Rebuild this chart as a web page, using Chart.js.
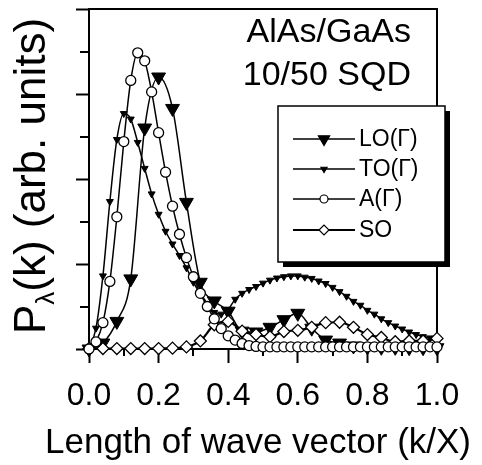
<!DOCTYPE html>
<html><head><meta charset="utf-8">
<script src="https://cdn.jsdelivr.net/npm/chart.js@4.4.1/dist/chart.umd.min.js"></script>
<style>html,body{margin:0;padding:0;background:#fff;}#wrap{width:482px;height:465px;}</style>
</head><body><div id="wrap"><canvas id="c" width="482" height="465"></canvas></div>
<script>
// ---- data ----
const kCoarse = [0,0.04,0.08,0.12,0.16,0.20,0.24,0.28,0.32,0.36,0.40,0.44,0.48,0.52,0.56,0.60,0.64,0.68,0.72,0.76,0.80,0.84,0.88,0.92,0.96,1.00];
const kFine = [0,0.02,0.04,0.06,0.08,0.10,0.12,0.14,0.16,0.18,0.20,0.22,0.24,0.26,0.28,0.30,0.32,0.34,0.36,0.38,0.40,0.42,0.44,0.46,0.48,0.50,0.52,0.54,0.56,0.58,0.60,0.62,0.64,0.66,0.68,0.70,0.72,0.74,0.76,0.78,0.80,0.82,0.84,0.86,0.88,0.90,0.92,0.94,0.96,0.98,1.00];
const LO = [0,0.14,0.65,1.65,5.2,6.4,5.66,3.45,1.57,1.13,0.89,0.42,0.40,0.51,0.69,0.84,0.49,0.21,0.14,0.07,0.05,0.04,0.04,0.03,0.03,0.03];
const SO = [0.01,0.01,0.01,0.01,0.01,0.01,0.02,0.05,0.19,0.57,0.65,0.42,0.34,0.29,0.41,0.44,0.51,0.62,0.63,0.51,0.34,0.27,0.17,0.19,0.19,0.25];
const TO = [0,0.49,1.72,3.47,4.93,5.54,5.41,4.86,4.25,3.65,3.17,2.77,2.47,2.20,1.91,1.57,1.30,1.07,0.86,0.82,0.93,1.17,1.31,1.40,1.47,1.55,1.62,1.67,1.70,1.72,1.72,1.69,1.66,1.60,1.54,1.45,1.35,1.24,1.12,1.03,0.91,0.82,0.71,0.62,0.54,0.47,0.40,0.34,0.29,0.26,0.23];
const A = [0,0.17,0.62,1.59,3.11,4.88,6.32,6.97,6.78,6.05,5.09,4.16,3.36,2.70,2.15,1.70,1.31,1.00,0.71,0.48,0.31,0.21,0.13,0.08,0.06,0.05,0.05,0.05,0.05,0.05,0.05,0.05,0.05,0.05,0.05,0.05,0.05,0.05,0.05,0.05,0.05,0.05,0.05,0.05,0.05,0.05,0.05,0.05,0.05,0.05,0.05];
const seriesNames = ['LO(Γ)','TO(Γ)','A(Γ)','SO'];
const xTickLabels = ['0.0','0.2','0.4','0.6','0.8','1.0'];
const xMinorTicks = [0.1,0.3,0.5,0.7,0.9];
const yMinorTicks = [1,3,5,7];
const xTitle = 'Length of wave vector (k/X)';
const yTitleParts = ['P','λ','(k) (arb. units)'];
const annotLines = ['AlAs/GaAs','10/50 SQD'];

const FONT = "'Liberation Sans', Arial, Helvetica, sans-serif";
const pts = (xs, ys) => xs.map((x,i)=>({x:x,y:ys[i]}));

const datasets = [
  {label:seriesNames[2], data:pts(kFine,A), pointStyle:'circle', pointRadius:5, pointBackgroundColor:'#fff', borderWidth:1.5, pointBorderWidth:1.3, order:0},
  {label:seriesNames[3], data:pts(kCoarse,SO), pointStyle:'rectRot', pointRadius:6, pointBackgroundColor:'#fff', borderWidth:2.2, pointBorderWidth:1.3, order:1},
  {label:seriesNames[0], data:pts(kCoarse,LO), pointStyle:'triangle', rotation:180, pointRadius:8, pointBackgroundColor:'#000', borderWidth:1.5, pointBorderWidth:1, order:2},
  {label:seriesNames[1], data:pts(kFine,TO), pointStyle:'triangle', rotation:180, pointRadius:4, pointBackgroundColor:'#000', borderWidth:1.5, pointBorderWidth:1, order:3},
].map(d=>Object.assign({borderColor:'#000', pointBorderColor:'#000', cubicInterpolationMode:'monotone', clip:false, pointRotation:d.rotation||0}, d));

const legendOrder = [2,3,0,1]; // dataset indices in legend order LO, TO, A, SO

const decor = {
  id:'decor',
  beforeDatasetsDraw(chart){
    const {ctx, chartArea:ca, scales:{x,y}} = chart;
    ctx.save();
    ctx.strokeStyle='#000'; ctx.lineWidth=2;
    ctx.beginPath();
    ctx.moveTo(ca.left, ca.top); ctx.lineTo(ca.right, ca.top); ctx.lineTo(ca.right, ca.bottom);
    ctx.stroke();
    xMinorTicks.forEach(v=>{const px=Math.round(x.getPixelForValue(v)); ctx.beginPath(); ctx.moveTo(px, ca.bottom); ctx.lineTo(px, ca.bottom+7); ctx.stroke();});
    yMinorTicks.forEach(v=>{const py=Math.round(y.getPixelForValue(v)); ctx.beginPath(); ctx.moveTo(ca.left, py); ctx.lineTo(ca.left-9, py); ctx.stroke();});
    ctx.restore();
  },
  afterDraw(chart){
    const {ctx} = chart;
    // x title
    ctx.save();
    ctx.fillStyle='#000'; ctx.font='35px '+FONT; ctx.textAlign='center'; ctx.textBaseline='alphabetic';
    ctx.fillText(xTitle, 258, 453);
    ctx.restore();
    // y title with subscript
    ctx.save();
    ctx.fillStyle='#000';
    const fs = 44;
    ctx.translate(45, 176);
    ctx.rotate(-Math.PI/2);
    const sub = Math.round(fs*0.6);
    ctx.font = fs+'px '+FONT;
    const w0 = ctx.measureText(yTitleParts[0]).width;
    ctx.font = sub+'px '+FONT;
    const w1 = ctx.measureText(yTitleParts[1]).width;
    ctx.font = fs+'px '+FONT;
    const w2 = ctx.measureText(yTitleParts[2]).width;
    let sx = -(w0+w1+w2)/2;
    ctx.textBaseline='alphabetic'; ctx.textAlign='left';
    ctx.fillText(yTitleParts[0], sx, 0);
    ctx.font = sub+'px '+FONT;
    ctx.fillText(yTitleParts[1], sx+w0, 9);
    ctx.font = fs+'px '+FONT;
    ctx.fillText(yTitleParts[2], sx+w0+w1, 0);
    ctx.restore();

    ctx.save();
    ctx.fillStyle='#000'; ctx.font='34px '+FONT; ctx.textAlign='right'; ctx.textBaseline='middle';
    ctx.fillText(annotLines[0], 411, 33);
    ctx.fillText(annotLines[1], 411, 76);
    ctx.restore();

    const bx=278, by=106, bw=167, bh=156;
    ctx.save();
    ctx.fillStyle='#000'; ctx.fillRect(bx+5, by+5, bw, bh);
    ctx.fillStyle='#fff'; ctx.fillRect(bx, by, bw, bh);
    ctx.strokeStyle='#000'; ctx.lineWidth=1.5; ctx.strokeRect(bx, by, bw, bh);
    const rowY = [139,169,199,230];
    const legRadius = [6.5,3.5,4,5];
    legendOrder.forEach((di,i)=>{
      const ds = chart.data.datasets[di];
      const yy = rowY[i];
      ctx.strokeStyle='#000'; ctx.lineWidth=ds.borderWidth;
      ctx.beginPath(); ctx.moveTo(293, yy); ctx.lineTo(355, yy); ctx.stroke();
      ctx.fillStyle = ds.pointBackgroundColor; ctx.strokeStyle='#000'; ctx.lineWidth=1.2;
      Chart.helpers.drawPoint(ctx, {pointStyle:ds.pointStyle, rotation:ds.pointRotation, radius:legRadius[i], borderWidth:1.2}, 324, yy);
      ctx.fillStyle='#000'; ctx.font='23px '+FONT; ctx.textAlign='left'; ctx.textBaseline='middle';
      ctx.fillText(ds.label, 359, yy+1);
    });
    ctx.restore();
  }
};

new Chart(document.getElementById('c'), {
  type:'line',
  data:{datasets:datasets},
  options:{
    responsive:false, animation:false, devicePixelRatio:1,
    layout:{padding:{left:0,right:45,top:6,bottom:0}},
    plugins:{legend:{display:false}, tooltip:{enabled:false}},
    scales:{
      x:{type:'linear', min:0, max:1, position:'bottom',
        ticks:{stepSize:0.2, autoSkip:false, maxRotation:0, color:'#000', padding:14, font:{family:FONT,size:32},
          callback:(v,i)=>xTickLabels[i]},
        grid:{drawOnChartArea:false, tickLength:14, tickWidth:2, tickColor:'#000'},
        border:{color:'#000', width:2},
        title:{display:false},
        afterFit(s){ s.height = 116; }
      },
      y:{type:'linear', min:0, max:8,
        ticks:{stepSize:2, display:false},
        grid:{drawOnChartArea:false, tickLength:13, tickWidth:2, tickColor:'#000'},
        border:{color:'#000', width:2},
        afterFit(s){ s.width = 89; }
      }
    }
  },
  plugins:[decor]
});
</script></body></html>
